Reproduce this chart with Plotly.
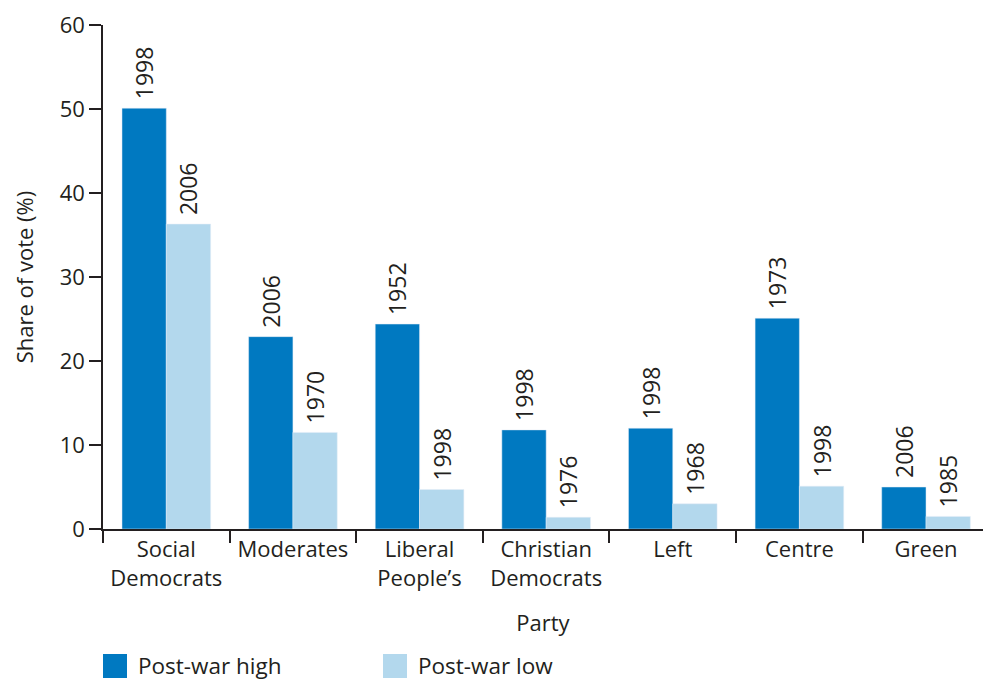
import plotly.graph_objects as go

parties = ["Social<br>Democrats", "Moderates", "Liberal<br>People’s", "Christian<br>Democrats", "Left", "Centre", "Green"]
high_values = [50.1, 22.9, 24.4, 11.8, 12.0, 25.1, 5.0]
high_years = ["1998", "2006", "1952", "1998", "1998", "1973", "2006"]
low_values = [36.3, 11.5, 4.7, 1.4, 3.0, 5.1, 1.5]
low_years = ["2006", "1970", "1998", "1976", "1968", "1998", "1985"]
series_names = ["Post-war high", "Post-war low"]

DARK = "#0079c1"
LIGHT = "#b3d8ed"
TXT = "#231f20"
FONT = "Open Sans"

W, H = 983, 681
L, R, T, B = 103, 0, 25, 152
PW, PH = W - L - R, H - T - B

fig = go.Figure()
for vals, yrs, name, col in [(high_values, high_years, series_names[0], DARK),
                             (low_values, low_years, series_names[1], LIGHT)]:
    fig.add_trace(go.Bar(x=parties, y=vals, text=["\u00a0" + y for y in yrs], name=name,
                         marker_color=col, textposition="outside", textangle=-90,
                         constraintext="none", cliponaxis=False, showlegend=False,
                         textfont=dict(size=23, color=TXT, family=FONT)))

# manual legend (paper-anchored swatches + real text)
def px_x(p):
    return (p - L) / PW

def px_y(p):
    return (H - B - p) / PH

shapes, annots = [], []
for name, col, sx, tx in [(series_names[0], DARK, 103, 136), (series_names[1], LIGHT, 383, 416)]:
    shapes.append(dict(type="rect", xref="paper", yref="paper",
                       x0=px_x(sx), x1=px_x(sx + 24), y0=px_y(678), y1=px_y(654),
                       fillcolor=col, line=dict(width=0)))
    annots.append(dict(xref="paper", yref="paper", x=px_x(tx), y=px_y(665),
                       xanchor="left", yanchor="middle", text=name, showarrow=False,
                       font=dict(size=22.5, color=TXT, family=FONT)))

fig.update_layout(
    width=W, height=H,
    margin=dict(l=L, r=R, t=T, b=B, autoexpand=False),
    plot_bgcolor="white", paper_bgcolor="white",
    barmode="group", bargap=0.3, bargroupgap=0,
    font=dict(family=FONT, size=22, color=TXT),
    showlegend=False,
    shapes=shapes, annotations=annots,
    xaxis=dict(type="category", range=[-0.5, 6.45], showline=True, linecolor=TXT, linewidth=1.5,
               ticks="outside", tickson="boundaries", ticklen=12, tickcolor=TXT, tickwidth=1.5,
               showgrid=False, title=dict(text="Party", standoff=25, font=dict(size=22)),
               tickfont=dict(size=22), automargin=False),
    yaxis=dict(range=[0, 60], dtick=10, showline=True, linecolor=TXT, linewidth=1.5,
               ticks="outside", ticklen=12, tickcolor=TXT, tickwidth=1.5, showgrid=False,
               zeroline=False, title=dict(text="Share of vote (%)", standoff=20, font=dict(size=22)),
               tickfont=dict(size=22), automargin=False),
)

fig.write_html("out.html")
